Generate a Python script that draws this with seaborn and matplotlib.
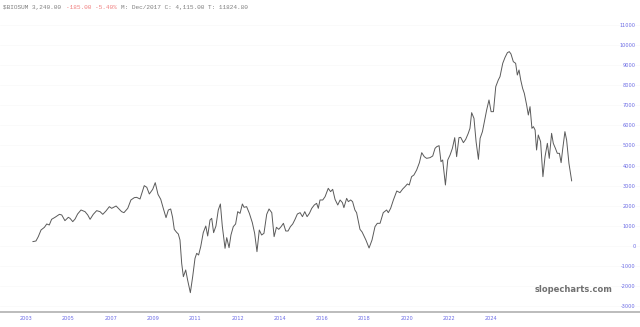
import matplotlib
matplotlib.use("Agg")
import matplotlib.pyplot as plt
import seaborn as sns
import pandas as pd

# Horizontal position in the chart's time scale (decimal years, 2 years per tick label)
dates = [
    2003.32, 2003.47, 2003.58, 2003.71, 2003.87, 2003.98, 2004.10, 2004.21, 2004.37, 2004.58,
    2004.69, 2004.84, 2005.00, 2005.08, 2005.21, 2005.32, 2005.44, 2005.60, 2005.79, 2005.92,
    2006.03, 2006.18, 2006.34, 2006.50, 2006.63, 2006.78, 2006.94, 2007.05, 2007.26, 2007.37,
    2007.52, 2007.63, 2007.81, 2007.96, 2008.12, 2008.23, 2008.39, 2008.59, 2008.71, 2008.83,
    2008.99, 2009.11, 2009.24, 2009.37, 2009.49, 2009.62, 2009.73, 2009.84, 2009.93, 2010.01,
    2010.12, 2010.20, 2010.28, 2010.36, 2010.44, 2010.55, 2010.64, 2010.77, 2010.88, 2010.99,
    2011.07, 2011.16, 2011.26, 2011.38, 2011.50, 2011.59, 2011.70, 2011.78, 2011.87, 2011.98,
    2012.09, 2012.19, 2012.28, 2012.41, 2012.49, 2012.60, 2012.69, 2012.80, 2012.91, 2013.01,
    2013.12, 2013.23, 2013.31, 2013.43, 2013.56, 2013.70, 2013.81, 2013.92, 2014.03, 2014.14,
    2014.25, 2014.38, 2014.49, 2014.62, 2014.73, 2014.84, 2014.95, 2015.06, 2015.17, 2015.28,
    2015.39, 2015.50, 2015.61, 2015.72, 2015.83, 2015.96, 2016.07, 2016.18, 2016.29, 2016.40,
    2016.51, 2016.63, 2016.74, 2016.82, 2016.90,
    2017.03, 2017.14, 2017.29, 2017.40, 2017.50, 2017.61, 2017.74, 2017.85, 2017.96, 2018.03,
    2018.16, 2018.24, 2018.35, 2018.44, 2018.55, 2018.63, 2018.71, 2018.79, 2018.89, 2019.07,
    2019.22, 2019.36, 2019.50, 2019.61, 2019.74, 2019.89, 2020.05, 2020.13, 2020.24, 2020.37,
    2020.53, 2020.68, 2020.81, 2020.92, 2021.03, 2021.12, 2021.23, 2021.34, 2021.47, 2021.60,
    2021.71, 2021.83, 2021.94, 2022.10, 2022.23, 2022.34, 2022.42, 2022.53, 2022.62, 2022.70,
    2022.83, 2022.94, 2023.05, 2023.16, 2023.27, 2023.36, 2023.47, 2023.55, 2023.68, 2023.79,
    2023.91, 2023.99, 2024.07, 2024.18, 2024.28, 2024.39, 2024.47, 2024.58, 2024.70, 2024.78,
    2024.89, 2024.99, 2025.10, 2025.21, 2025.33, 2025.41, 2025.54, 2025.65, 2025.76, 2025.85,
    2025.93, 2026.04, 2026.15, 2026.23, 2026.31, 2026.39, 2026.48, 2026.56, 2026.67, 2026.75,
    2026.83, 2026.92, 2026.99, 2027.07, 2027.14, 2027.22, 2027.33, 2027.44, 2027.54, 2027.65,
    2027.74, 2027.85, 2027.93, 2028.03, 2028.12, 2028.22, 2028.30, 2028.37, 2028.48, 2028.56,
    2028.67, 2028.80,
]

values = [
    216, 249, 464, 796, 929, 1095, 1045, 1327, 1426, 1575,
    1542, 1260, 1426, 1376, 1211, 1343, 1592, 1791, 1708, 1542,
    1327, 1575, 1758, 1708, 1575, 1741, 1957, 1874, 1990, 1874,
    1708, 1658, 1874, 2289, 2405, 2421, 2338, 3002, 2919, 2587,
    2819, 3151, 2570, 2322, 1874, 1410, 1791, 1841, 1426, 829,
    680, 597, 299, -862, -1526, -1194, -1692, -2322, -1526, -614,
    -365, -448, -33, 663, 995, 498, 1294, 1376, 663, 995,
    1791, 2090, 995, -116, 415, -83, 547, 962, 1095, 1708,
    1625, 2090, 1924, 1957, 1625, 1161, 630, -282, 796, 547,
    630, 1575, 1841, 1658, 464, 929, 829, 962, 1128, 746,
    746, 962, 1095, 1327, 1592, 1658, 1459, 1708, 1459, 1625,
    1874, 2040, 2123, 1874, 2289,
    2289, 2454, 2869, 2703, 2819, 2322, 2040, 2289, 2156, 1907,
    2371, 2206, 2289, 2206, 1791, 1658, 1244, 829, 697, 299,
    -100, 299, 962, 1128, 1128, 1658, 1791, 1658, 1874, 2289,
    2736, 2653, 2836, 2952, 3085, 3035, 3449, 3532, 3781, 4146,
    4643, 4444, 4361, 4394, 4478, 4859, 4942, 4991, 4195, 4279,
    3035, 4279, 4527, 4859, 5389, 4444, 5389, 5406, 5141, 5307,
    5605, 5854, 6633, 6351, 5190, 4312, 5357, 5688, 6351, 6766,
    7264, 6683, 6683, 7927, 8259, 8424, 9088, 9386, 9618, 9668,
    9552, 9171, 9088, 8507, 8756, 8259, 7844, 7595, 7015, 6517,
    6932, 5854, 5937, 5771, 4776, 5522, 5190, 3449, 4444, 5108,
    4361, 5605, 5108, 4859, 4610, 4610, 4146, 4776, 5688, 5274,
    4113, 3234,
]

x_tick_labels = ["2003", "2005", "2007", "2009", "2011", "2012",
                 "2014", "2016", "2018", "2020", "2022", "2024"]
y_tick_values = [-3000, -2000, -1000, 0, 1000, 2000, 3000, 4000, 5000,
                 6000, 7000, 8000, 9000, 10000, 11000]

df = pd.DataFrame({"date": dates, "value": values})

sns.set_style("white")
fig = plt.figure(figsize=(6.4, 3.27), dpi=100)
ax = fig.add_axes([0, 1 - 312 / 327, 1, (312 - 15) / 327])

sns.lineplot(data=df, x="date", y="value", ax=ax, color="#5a5a5a",
             linewidth=0.7, estimator=None, sort=False)

ax.set_xlim(2001.77, 2032.03)
ax.set_ylim(-3284, 11492)

ax.set_xticks([2003 + 2 * i for i in range(len(x_tick_labels))])
ax.set_xticklabels(x_tick_labels)
ax.set_yticks(y_tick_values)
ax.set_yticklabels([str(v) for v in y_tick_values])
ax.yaxis.tick_right()
ax.tick_params(axis="y", length=0, pad=-3, labelsize=3.6, labelcolor="#6a6ae6")
for lbl in ax.get_yticklabels():
    lbl.set_horizontalalignment("right")
ax.tick_params(axis="x", length=0, pad=3, labelsize=3.6, labelcolor="#6a6ae6")

ax.grid(axis="y", color="#f8f8f8", linewidth=0.5)
ax.set_xlabel("")
ax.set_ylabel("")
for side in ["top", "left", "right"]:
    ax.spines[side].set_visible(False)
ax.spines["bottom"].set_color("#b0b0b0")
ax.spines["bottom"].set_linewidth(1.2)

# header
mono = "Liberation Mono"
fig.text(0.005, 0.985, "$BIOSUM 3,240.00 ", fontsize=4.4, family=mono,
         color="#808080", va="top", ha="left")
fig.text(0.005 + 17 * 0.6 * 4.4 / 72 / 6.4, 0.985, "-185.00 -5.40% ",
         fontsize=4.4, family=mono, color="#f08080", va="top", ha="left")
fig.text(0.005 + 32 * 0.6 * 4.4 / 72 / 6.4, 0.985,
         "M: Dec/2017 C: 4,115.00 T: 11824.80", fontsize=4.4, family=mono,
         color="#808080", va="top", ha="left")

fig.text(574 / 640, 1 - 290 / 327, "slopecharts.com", fontsize=6,
         fontweight="bold", color="#707070", ha="center", va="center")

fig.savefig("out.png", dpi=100)
